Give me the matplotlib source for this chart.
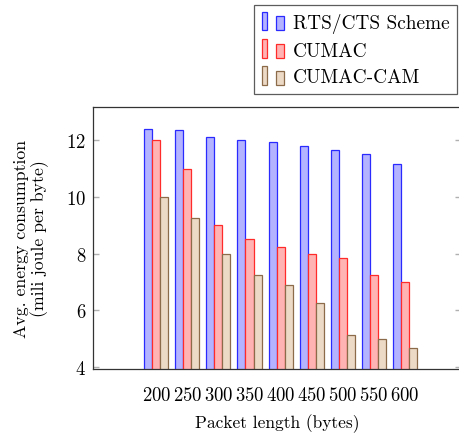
import numpy as np
import matplotlib.pyplot as plt
from matplotlib.patches import Rectangle
from matplotlib.legend_handler import HandlerBase

plt.rcParams['font.family'] = ['cmr10', 'DejaVu Serif']
plt.rcParams['axes.formatter.use_mathtext'] = True

# packet lengths and energy per byte for each scheme
packet_len = [200, 250, 300, 350, 400, 450, 500, 550, 600]
rts_cts = [12.4, 12.35, 12.1, 12.0, 11.95, 11.8, 11.65, 11.5, 11.15]
cumac = [12.0, 11.0, 9.0, 8.5, 8.25, 8.0, 7.85, 7.25, 7.0]
cumac_cam = [10.0, 9.25, 8.0, 7.25, 6.9, 6.25, 5.13, 5.0, 4.68]

series = [
    ('RTS/CTS Scheme', rts_cts, '#b3b3ff', '#2a2aff'),
    ('CUMAC', cumac, '#ffb3b3', '#ff2a2a'),
    ('CUMAC-CAM', cumac_cam, '#ecd9c6', '#8c6b4a'),
]


# pgfplots style legend image: two small bars side by side
class TwoBars(HandlerBase):
    def create_artists(self, legend, orig, xd, yd, w, h, fs, trans):
        fc = orig.get_facecolor()
        ec = orig.get_edgecolor()
        r1 = Rectangle((xd, yd - 0.2 * h), 0.22 * w, 1.4 * h, fc=fc, ec=ec, lw=0.9, transform=trans)
        r2 = Rectangle((xd + 0.6 * w, yd - 0.2 * h), 0.32 * w, 1.05 * h, fc=fc, ec=ec, lw=0.9, transform=trans)
        return [r1, r2]


fig = plt.figure(figsize=(4.6, 4.35), dpi=100)
ax = fig.add_axes([93 / 460, 1 - 370 / 435, 368 / 460, 262 / 435])

x = np.array(packet_len)
bw = 12.9
handles = []
for i, (name, vals, fc, ec) in enumerate(series):
    b = ax.bar(x + (i - 1) * bw, vals, width=bw, bottom=0, color=fc, edgecolor=ec,
               linewidth=0.9, label=name)
    handles.append(b.patches[0])

ax.set_xlim(98.4, 690)
ax.set_ylim(3.93, 13.17)
ax.set_xticks(packet_len)
ax.set_yticks([4, 6, 8, 10, 12])
ax.tick_params(axis='x', length=0, pad=12, labelsize=13.5)
ax.tick_params(axis='y', direction='in', length=4, color='#b0b0b0', width=1.0,
               right=True, pad=5, labelsize=13.5)
for s in ax.spines.values():
    s.set_color('#333333')
    s.set_linewidth(0.9)

ax.set_xlabel('Packet length (bytes)', fontsize=12.5, labelpad=7)
ax.set_ylabel('Avg. energy consumption\n(mili joule per byte)', fontsize=12.8,
              labelpad=12, linespacing=1.15)

leg = fig.legend(handles, [s[0] for s in series], handler_map={Rectangle: TwoBars()},
                 loc='upper left', bbox_to_anchor=(254 / 460, 1 - 6 / 435),
                 fontsize=13.9, frameon=True, fancybox=False, handlelength=1.25,
                 handleheight=0.7, handletextpad=0.35, labelspacing=0.46,
                 borderpad=0.4, borderaxespad=0)
leg.get_frame().set_edgecolor('#333333')
leg.get_frame().set_linewidth(0.9)

fig.savefig('out.png', dpi=100)
